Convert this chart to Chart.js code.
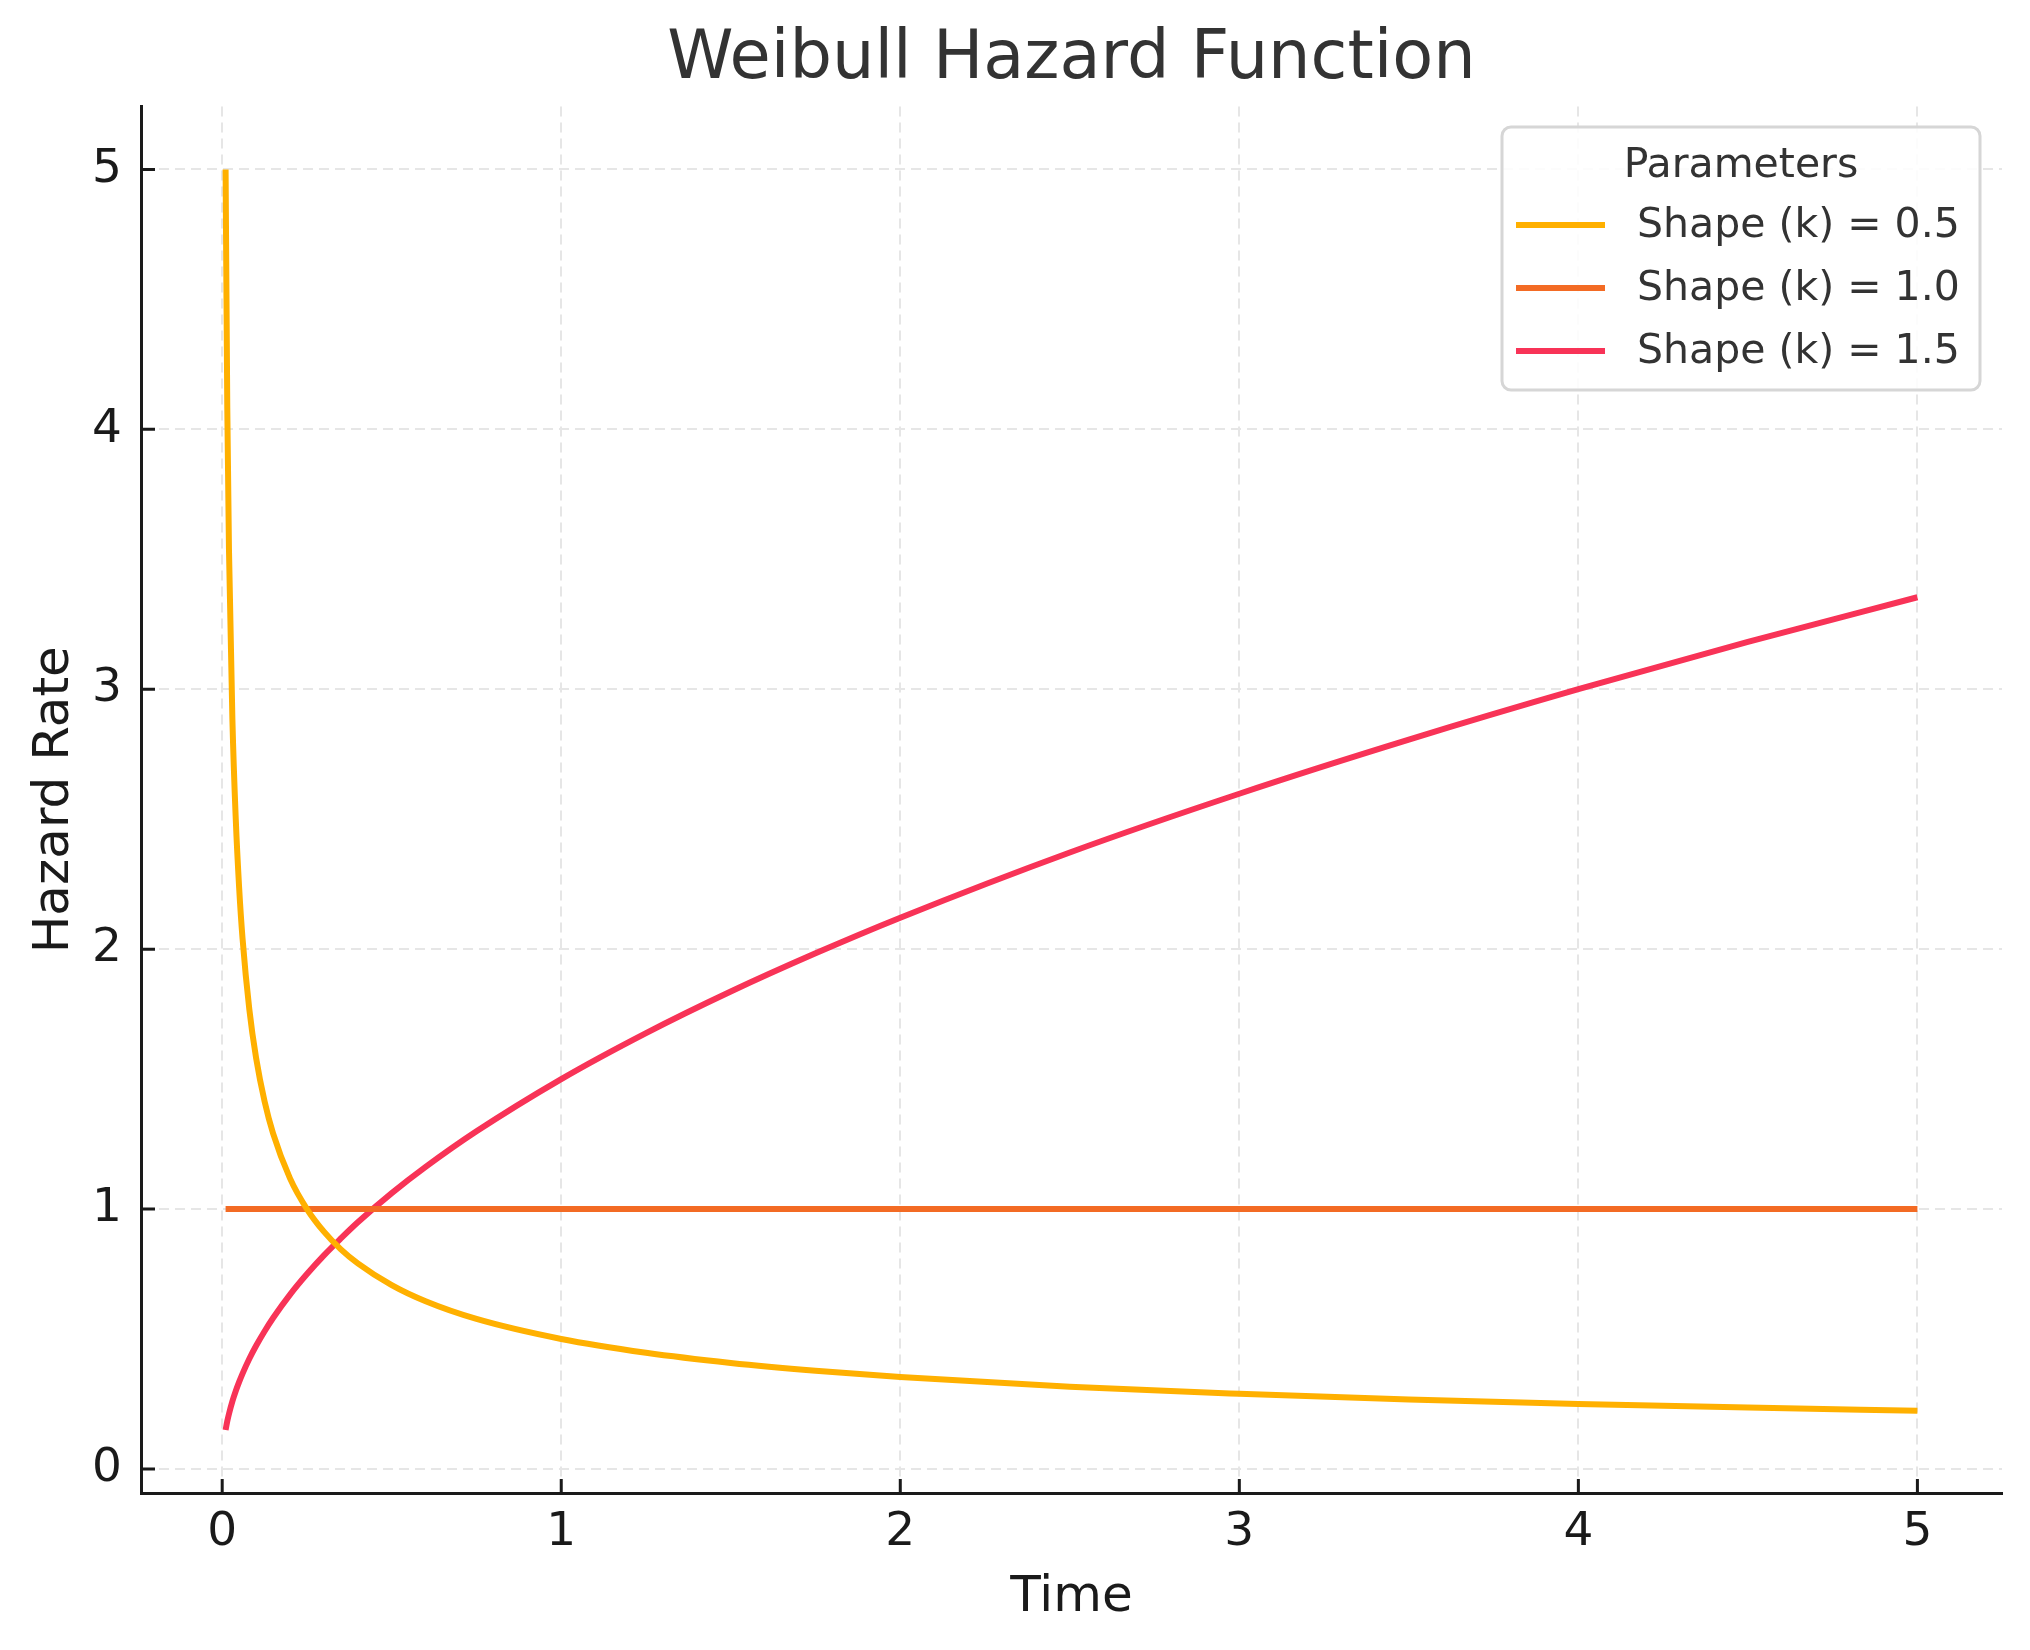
<!DOCTYPE html>
<html>
<head>
<meta charset="utf-8">
<script src="https://cdn.jsdelivr.net/npm/chart.js@4/dist/chart.umd.min.js"></script>
<style>
  html, body { margin: 0; padding: 0; background: #fff; }
  #wrap { width: 2030px; height: 1650px; }
</style>
</head>
<body>
<div id="wrap"><canvas id="weibull" width="2030" height="1650"></canvas></div>
<script>
// Valores (tiempo y tasa de riesgo)
const tiempos = [0.01, 0.015, 0.02, 0.03, 0.04, 0.05, 0.06, 0.08, 0.1, 0.125, 0.15, 0.2,
  0.25, 0.3, 0.35, 0.4, 0.5, 0.6, 0.75, 1, 1.25, 1.5, 1.75, 2, 2.5, 3, 3.5, 4, 4.5, 5]
const riesgo_k05 = [5.0, 4.082, 3.536, 2.887, 2.5, 2.236, 2.041, 1.768, 1.581, 1.414, 1.291, 1.118,
  1.0, 0.913, 0.845, 0.791, 0.707, 0.645, 0.577, 0.5, 0.447, 0.408, 0.378, 0.354, 0.316, 0.289,
  0.267, 0.25, 0.236, 0.224]
const riesgo_k10 = [1.0, 1.0, 1.0, 1.0, 1.0, 1.0, 1.0, 1.0, 1.0, 1.0, 1.0, 1.0,
  1.0, 1.0, 1.0, 1.0, 1.0, 1.0, 1.0, 1.0, 1.0, 1.0, 1.0, 1.0, 1.0, 1.0, 1.0, 1.0, 1.0, 1.0]
const riesgo_k15 = [0.15, 0.184, 0.212, 0.26, 0.3, 0.335, 0.367, 0.424, 0.474, 0.53, 0.581, 0.671,
  0.75, 0.822, 0.887, 0.949, 1.061, 1.162, 1.299, 1.5, 1.677, 1.837, 1.984, 2.121, 2.372, 2.598,
  2.806, 3.0, 3.182, 3.354]
const etiquetas = ['Shape (k) = 0.5', 'Shape (k) = 1.0', 'Shape (k) = 1.5']
const colores = ['#ffb000', '#f36b24', '#f83357']

const FUENTE = "'DejaVu Sans', sans-serif"

// Armo los puntos {x, y} para cada serie
const puntos = (ys) => tiempos.map((t, i) => ({ x: t, y: ys[i] }))

// Ticks hacia adentro, como en matplotlib
const ticksAdentro = {
  id: 'ticksAdentro',
  afterDatasetsDraw(chart) {
    const ctx = chart.ctx
    const { x, y } = chart.scales
    const area = chart.chartArea
    ctx.save()
    ctx.strokeStyle = '#1a1a1a'
    ctx.lineWidth = 3
    ctx.beginPath()
    x.ticks.forEach((t, i) => {
      const px = x.getPixelForTick(i)
      ctx.moveTo(px, area.bottom)
      ctx.lineTo(px, area.bottom - 14)
    })
    y.ticks.forEach((t, i) => {
      const py = y.getPixelForTick(i)
      ctx.moveTo(area.left, py)
      ctx.lineTo(area.left + 14, py)
    })
    ctx.stroke()
    ctx.restore()
  }
}

// Leyenda dibujada dentro del area del grafico, arriba a la derecha
const leyenda = {
  id: 'leyenda',
  afterDraw(chart) {
    const ctx = chart.ctx
    const x0 = 1502, y0 = 127, w = 478, h = 263
    ctx.save()
    ctx.beginPath()
    ctx.roundRect(x0, y0, w, h, 9)
    ctx.fillStyle = 'rgba(255,255,255,0.85)'
    ctx.fill()
    ctx.lineWidth = 3
    ctx.strokeStyle = '#d6d6d6'
    ctx.stroke()

    ctx.fillStyle = '#333333'
    ctx.font = '41px ' + FUENTE
    ctx.textAlign = 'center'
    ctx.textBaseline = 'middle'
    ctx.fillText('Parameters', x0 + w / 2, 166)

    ctx.textAlign = 'left'
    ctx.font = '41px ' + FUENTE
    chart.data.datasets.forEach((ds, i) => {
      const yy = 225 + i * 63
      ctx.strokeStyle = ds.borderColor
      ctx.lineWidth = 6
      ctx.beginPath()
      ctx.moveTo(1516, yy)
      ctx.lineTo(1605, yy)
      ctx.stroke()
      ctx.fillStyle = '#333333'
      ctx.fillText(ds.label, 1637, yy + 1)
    })
    ctx.restore()
  }
}

const grilla = {
  color: '#e6e6e6',
  lineWidth: 2,
  drawTicks: false
}

new Chart(document.getElementById('weibull'), {
  type: 'line',
  data: {
    datasets: [riesgo_k05, riesgo_k10, riesgo_k15].map((serie, i) => ({
      label: etiquetas[i],
      data: puntos(serie),
      borderColor: colores[i],
      backgroundColor: colores[i],
      borderWidth: 6,
      pointRadius: 0,
      cubicInterpolationMode: 'monotone',
      fill: false
    }))
  },
  options: {
    responsive: false,
    animation: false,
    devicePixelRatio: 1,
    layout: { padding: { left: 0, right: 28, top: 0, bottom: 0 } },
    plugins: {
      legend: { display: false },
      tooltip: { enabled: false },
      title: {
        display: true,
        text: 'Weibull Hazard Function',
        fullSize: false,
        color: '#333333',
        font: { family: FUENTE, size: 67, weight: 'normal' },
        padding: { top: 20, bottom: 6 }
      }
    },
    scales: {
      x: {
        type: 'linear',
        min: -0.2395,
        max: 5.2495,
        grid: { ...grilla },
        border: { display: true, color: '#1a1a1a', width: 3, dash: [10, 6] },
        ticks: {
          stepSize: 1,
          includeBounds: false,
          padding: 12,
          color: '#1a1a1a',
          font: { family: FUENTE, size: 47 }
        },
        title: {
          display: true,
          text: 'Time',
          color: '#1a1a1a',
          font: { family: FUENTE, size: 50 },
          padding: { top: 0, bottom: 22 }
        },
        afterFit: (s) => { s.height = 157 }
      },
      y: {
        type: 'linear',
        min: -0.0925,
        max: 5.2425,
        grid: { ...grilla },
        border: { display: true, color: '#1a1a1a', width: 3, dash: [10, 6] },
        ticks: {
          stepSize: 1,
          includeBounds: false,
          padding: 19,
          color: '#1a1a1a',
          font: { family: FUENTE, size: 47 }
        },
        title: {
          display: true,
          text: 'Hazard Rate',
          color: '#1a1a1a',
          font: { family: FUENTE, size: 50 },
          padding: { top: 25, bottom: 0 }
        },
        afterFit: (s) => { s.width = 141 }
      }
    }
  },
  plugins: [ticksAdentro, leyenda]
})
</script>
</body>
</html>
